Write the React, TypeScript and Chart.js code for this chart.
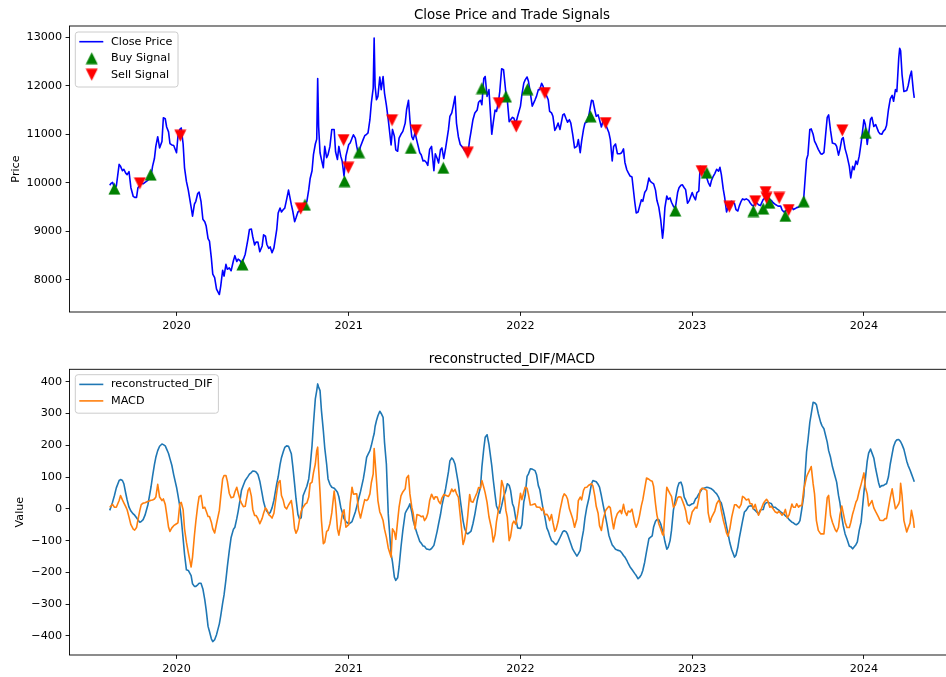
import React, { useEffect, useRef } from 'react';
import { Chart, registerables } from 'chart.js';

Chart.register(...registerables);

// ---------------- data (one line per month) ----------------
const dates = [
  '2019-08-12','2019-08-15','2019-08-18','2019-08-22','2019-08-26',
  '2019-09-01','2019-09-04','2019-09-08','2019-09-11','2019-09-15','2019-09-18','2019-09-22','2019-09-26',
  '2019-10-01','2019-10-04','2019-10-08','2019-10-11','2019-10-15','2019-10-18','2019-10-22','2019-10-26',
  '2019-11-01','2019-11-04','2019-11-08','2019-11-11','2019-11-15','2019-11-18','2019-11-22','2019-11-26',
  '2019-12-01','2019-12-04','2019-12-08','2019-12-11','2019-12-15','2019-12-18','2019-12-22','2019-12-26',
  '2020-01-01','2020-01-04','2020-01-08','2020-01-11','2020-01-15','2020-01-18','2020-01-22','2020-01-26',
  '2020-02-01','2020-02-04','2020-02-08','2020-02-11','2020-02-15','2020-02-18','2020-02-22','2020-02-26',
  '2020-03-01','2020-03-04','2020-03-08','2020-03-11','2020-03-15','2020-03-18','2020-03-22','2020-03-26',
  '2020-04-01','2020-04-04','2020-04-08','2020-04-11','2020-04-15','2020-04-18','2020-04-22','2020-04-26',
  '2020-05-01','2020-05-04','2020-05-08','2020-05-11','2020-05-15','2020-05-18','2020-05-22','2020-05-26',
  '2020-06-01','2020-06-04','2020-06-08','2020-06-11','2020-06-15','2020-06-18','2020-06-22','2020-06-26',
  '2020-07-01','2020-07-04','2020-07-08','2020-07-11','2020-07-15','2020-07-18','2020-07-22','2020-07-26',
  '2020-08-01','2020-08-04','2020-08-08','2020-08-11','2020-08-15','2020-08-18','2020-08-22','2020-08-26',
  '2020-09-01','2020-09-04','2020-09-08','2020-09-11','2020-09-15','2020-09-18','2020-09-22','2020-09-26',
  '2020-10-01','2020-10-04','2020-10-08','2020-10-11','2020-10-15','2020-10-18','2020-10-22','2020-10-25','2020-10-27','2020-10-29',
  '2020-11-01','2020-11-04','2020-11-08','2020-11-11','2020-11-15','2020-11-18','2020-11-22','2020-11-26',
  '2020-12-01','2020-12-04','2020-12-08','2020-12-11','2020-12-15','2020-12-18','2020-12-22','2020-12-26',
  '2021-01-01','2021-01-04','2021-01-08','2021-01-11','2021-01-15','2021-01-18','2021-01-22','2021-01-26',
  '2021-02-01','2021-02-04','2021-02-08','2021-02-11','2021-02-15','2021-02-18','2021-02-22','2021-02-24','2021-02-26',
  '2021-03-01','2021-03-04','2021-03-08','2021-03-11','2021-03-15','2021-03-18','2021-03-22','2021-03-26',
  '2021-04-01','2021-04-04','2021-04-08','2021-04-11','2021-04-15','2021-04-18','2021-04-22','2021-04-26',
  '2021-05-01','2021-05-04','2021-05-08','2021-05-11','2021-05-15','2021-05-18','2021-05-22','2021-05-26',
  '2021-06-01','2021-06-04','2021-06-08','2021-06-11','2021-06-15','2021-06-18','2021-06-22','2021-06-26',
  '2021-07-01','2021-07-04','2021-07-08','2021-07-11','2021-07-15','2021-07-18','2021-07-22','2021-07-26',
  '2021-08-01','2021-08-04','2021-08-08','2021-08-11','2021-08-15','2021-08-18','2021-08-22','2021-08-26',
  '2021-09-01','2021-09-04','2021-09-08','2021-09-11','2021-09-15','2021-09-18','2021-09-22','2021-09-26',
  '2021-10-01','2021-10-04','2021-10-08','2021-10-11','2021-10-15','2021-10-18','2021-10-22','2021-10-26',
  '2021-11-01','2021-11-04','2021-11-08','2021-11-11','2021-11-15','2021-11-18','2021-11-22','2021-11-26',
  '2021-12-01','2021-12-04','2021-12-08','2021-12-11','2021-12-15','2021-12-18','2021-12-22','2021-12-26',
  '2022-01-01','2022-01-04','2022-01-08','2022-01-11','2022-01-15','2022-01-18','2022-01-22','2022-01-26',
  '2022-02-01','2022-02-04','2022-02-08','2022-02-11','2022-02-15','2022-02-18','2022-02-22','2022-02-26',
  '2022-03-01','2022-03-04','2022-03-08','2022-03-11','2022-03-15','2022-03-18','2022-03-22','2022-03-26',
  '2022-04-01','2022-04-04','2022-04-08','2022-04-11','2022-04-15','2022-04-18','2022-04-22','2022-04-26',
  '2022-05-01','2022-05-04','2022-05-08','2022-05-11','2022-05-15','2022-05-18','2022-05-22','2022-05-26',
  '2022-06-01','2022-06-04','2022-06-08','2022-06-11','2022-06-15','2022-06-18','2022-06-22','2022-06-26',
  '2022-07-01','2022-07-04','2022-07-08','2022-07-11','2022-07-15','2022-07-18','2022-07-22','2022-07-26',
  '2022-08-01','2022-08-04','2022-08-08','2022-08-11','2022-08-15','2022-08-18','2022-08-22','2022-08-26',
  '2022-09-01','2022-09-04','2022-09-08','2022-09-11','2022-09-15','2022-09-18','2022-09-22','2022-09-26',
  '2022-10-01','2022-10-04','2022-10-08','2022-10-11','2022-10-15','2022-10-18','2022-10-22','2022-10-26','2022-10-30',
  '2022-11-01','2022-11-04','2022-11-08','2022-11-11','2022-11-15','2022-11-18','2022-11-22','2022-11-26',
  '2022-12-01','2022-12-04','2022-12-08','2022-12-11','2022-12-15','2022-12-18','2022-12-22','2022-12-26',
  '2023-01-01','2023-01-04','2023-01-08','2023-01-11','2023-01-15','2023-01-18','2023-01-22','2023-01-26',
  '2023-02-01','2023-02-04','2023-02-08','2023-02-11','2023-02-15','2023-02-18','2023-02-22','2023-02-26',
  '2023-03-01','2023-03-04','2023-03-08','2023-03-11','2023-03-15','2023-03-18','2023-03-22','2023-03-26',
  '2023-04-01','2023-04-04','2023-04-08','2023-04-11','2023-04-15','2023-04-18','2023-04-22','2023-04-26',
  '2023-05-01','2023-05-04','2023-05-08','2023-05-11','2023-05-15','2023-05-18','2023-05-22','2023-05-26',
  '2023-06-01','2023-06-04','2023-06-08','2023-06-11','2023-06-15','2023-06-18','2023-06-22','2023-06-26',
  '2023-07-01','2023-07-04','2023-07-08','2023-07-11','2023-07-15','2023-07-18','2023-07-22','2023-07-26',
  '2023-08-01','2023-08-04','2023-08-08','2023-08-11','2023-08-15','2023-08-18','2023-08-22','2023-08-26',
  '2023-09-01','2023-09-04','2023-09-08','2023-09-11','2023-09-15','2023-09-18','2023-09-22','2023-09-26',
  '2023-10-01','2023-10-04','2023-10-08','2023-10-11','2023-10-15','2023-10-18','2023-10-22','2023-10-26',
  '2023-11-01','2023-11-04','2023-11-08','2023-11-11','2023-11-15','2023-11-18','2023-11-22','2023-11-26',
  '2023-12-01','2023-12-04','2023-12-08','2023-12-11','2023-12-15','2023-12-18','2023-12-22','2023-12-26',
  '2024-01-01','2024-01-04','2024-01-08','2024-01-11','2024-01-15','2024-01-18','2024-01-22','2024-01-26',
  '2024-02-01','2024-02-04','2024-02-08','2024-02-11','2024-02-15','2024-02-18','2024-02-22','2024-02-26',
  '2024-03-01','2024-03-04','2024-03-08','2024-03-11','2024-03-15','2024-03-17','2024-03-19','2024-03-22','2024-03-26',
  '2024-04-01','2024-04-04','2024-04-08','2024-04-11','2024-04-15','2024-04-17',
];

const closePrice = [
  9950, 9990, 10010, 9900, 9930,
  10380, 10340, 10250, 10280, 10200, 10170, 10230, 9900,
  9720, 9700, 9700, 9900, 9950, 9990, 9980, 10010,
  10050, 10120, 10150, 10340, 10500, 10750, 10950, 10720,
  10850, 11340, 11320, 11150, 11050, 10810, 10780, 10770,
  10620, 10960, 11100, 11130, 10800, 10310, 10030, 9850,
  9500, 9315, 9560, 9620, 9780, 9810, 9620, 9250,
  9200, 9110, 8850, 8800, 8450, 8120, 8050, 7810,
  7700, 7880, 8200, 8080, 8320, 8220, 8250, 8190,
  8400, 8500, 8380, 8430, 8400, 8340, 8420, 8530,
  8850, 9040, 9050, 8890, 8720, 8780, 8780, 8580,
  8700, 8930, 8900, 8730, 8650, 8680, 8560, 8660,
  9040, 9380, 9480, 9400, 9450, 9480, 9660, 9850,
  9550, 9420, 9200, 9280, 9400, 9420, 9480, 9510,
  9560, 9620, 9860, 10090, 10250, 10580, 10800, 10900, 12150, 11160,
  10620, 10480, 10310, 10750, 10520, 10580, 10750, 11100,
  11100, 10640, 10480, 10750, 10550, 10450, 10140, 10550,
  10790, 10820, 10920, 10990, 10920, 10750, 10570, 10750,
  10900, 10970, 11000, 11030, 11300, 11640, 11950, 12980, 12000,
  11710, 11780, 12180, 11920, 12190, 11850, 11600, 11300,
  10780, 11100, 10960, 10680, 10650, 10920, 11000, 11060,
  11230, 11510, 11700, 11300, 10950, 10890, 11030, 10860,
  10620, 10580, 10450, 10460, 10420, 10360, 10690, 10750,
  10250, 10600, 10500, 10410, 10680, 10720, 10500, 10720,
  11100, 11370, 11440, 11580, 11780, 11230, 10950, 10790,
  10720, 10670, 10620, 10570, 10890, 11060, 11300, 11440,
  11500, 11660, 11700, 11610, 12150, 12190, 11780, 11920,
  11000, 11230, 11500, 11470, 11650, 11880, 12350, 12330,
  11850, 11710, 11260, 11300, 11350, 11330, 11220, 11370,
  11580, 11810, 12050, 12120, 12180, 12090, 11850, 11580,
  11710, 11780, 11920, 11920, 12050, 11990, 11850, 11780,
  11710, 11470, 11440, 11370, 11080, 11130, 11230, 11100,
  11400, 11420, 11320, 11250, 11300, 11230, 11000, 10720,
  10750, 10890, 10620, 10860, 11100, 11230, 11250, 11370,
  11700, 11690, 11500, 11370, 11400, 11300, 11150, 11290,
  11200, 11130, 11030, 10890, 10450, 10750, 10800, 10600,
  10600, 10620, 10700, 10420, 10270, 10210, 10140, 10120,
  9600, 9380, 9400, 9510, 9650, 9620, 9800, 9860,
  10100, 10030, 10000, 9980, 9850, 9640, 9500, 9250, 8860,
  9040, 9490, 9730, 9660, 9690, 9600, 9520, 9470,
  9800, 9900, 9950, 9960, 9900, 9860, 9580, 9640,
  9800, 9720, 9650, 9800, 9830, 10340, 10300, 10230,
  10100, 10010, 9930, 10050, 10140, 10190, 10280, 10240,
  10320, 10170, 9870, 9700, 9400, 9490, 9600, 9620,
  9570, 9450, 9420, 9520, 9620, 9670, 9650, 9670,
  9640, 9590, 9540, 9520, 9580, 9590, 9550, 9530,
  9660, 9680, 9730, 9700, 9660, 9640, 9590, 9560,
  9530, 9520, 9520, 9440, 9400, 9420, 9440, 9500,
  9500, 9450, 9470, 9490, 9500, 9520, 9540, 9680,
  10480, 10580, 11100, 11110, 11000, 10860, 10780, 10690,
  10600, 10590, 10620, 10930, 11350, 11400, 11080, 10820,
  10800, 10750, 10570, 10690, 10900, 10930, 10700, 10560,
  10340, 10100, 10340, 10270, 10450, 10380, 10550, 10820,
  11300, 11200, 10790, 11010, 11310, 11350, 11160, 11200,
  11050, 11010, 11000, 11060, 11100, 11180, 11500, 11730,
  11800, 11680, 11920, 11880, 12570, 12770, 12720, 12230, 11880,
  11900, 12000, 12200, 12300, 11900, 11750,
];

const reconstructedDIF = [
  -5, 7, 21, 42, 66,
  89, 92, 89, 79, 49, 28, 5, -7,
  -16, -20, -28, -35, -42, -40, -34, -20,
  12, 37, 71, 102, 139, 162, 183, 197,
  204, 202, 198, 188, 174, 158, 137, 107,
  68, 43, 8, -30, -94, -143, -192, -194,
  -210, -236, -244, -244, -239, -234, -234, -252,
  -286, -318, -370, -386, -409, -418, -412, -396,
  -362, -336, -297, -271, -223, -182, -133, -90,
  -64, -58, -31, -8, 28, 58, 74, 89,
  102, 109, 114, 119, 118, 116, 108, 87,
  47, 22, 1, -8, -15, -12, 3, 27,
  79, 100, 139, 161, 180, 193, 198, 197,
  173, 135, 77, 31, -18, -31, -28, 41,
  60, 71, 94, 133, 199, 267, 346, 372, 393, 383,
  372, 309, 246, 192, 141, 94, 77, 68,
  65, 60, 52, 38, 5, -10, -31, -40,
  -47, -45, -40, -27, -10, 7, 31, 54,
  94, 121, 162, 171, 183, 199, 225, 236, 259,
  278, 293, 307, 300, 288, 210, 141, -16,
  -141, -168, -215, -225, -217, -183, -121, -68,
  -14, -5, 5, 16, -10, -37, -58, -77,
  -103, -108, -117, -118, -126, -127, -129, -125,
  -115, -96, -70, -47, -18, 9, 37, 64,
  117, 151, 160, 155, 140, 114, 79, 29,
  -37, -60, -76, -79, -74, -70, -47, -18,
  26, 45, 68, 131, 189, 225, 233, 203,
  136, 93, 44, 9, -5, -14, 10, 37,
  58, 79, 74, 58, 16, 5, -31, -60,
  -62, -50, 21, 42, 102, 110, 126, 125,
  120, 108, 73, 61, 26, 0, -26, -60,
  -70, -84, -100, -103, -110, -113, -103, -91,
  -72, -69, -72, -80, -97, -110, -127, -137,
  -149, -142, -131, -100, -68, -30, 5, 30,
  79, 89, 87, 85, 77, 68, 41, 10,
  -26, -50, -84, -97, -114, -119, -127, -130,
  -133, -138, -147, -152, -162, -172, -183, -191,
  -204, -210, -220, -216, -207, -194, -168, -134,
  -94, -90, -85, -57, -39, -34, -34, -47, -70,
  -79, -103, -127, -121, -100, -68, -5, 28,
  68, 81, 84, 72, 37, 28, 13, 10,
  16, 17, 31, 35, 47, 53, 63, 65,
  68, 67, 65, 63, 58, 53, 47, 37,
  24, 18, -6, -26, -56, -77, -107, -129,
  -152, -146, -121, -93, -62, -39, -10, -4,
  8, 9, 10, 0, -5, -10, -16, -3,
  -2, 14, 20, 20, 18, 17, 5, 5,
  -1, -4, -10, -13, -17, -22, -26, -34,
  -42, -44, -49, -50, -45, -37, 0, 40,
  178, 215, 272, 299, 335, 334, 328, 300,
  272, 261, 252, 234, 210, 183, 162, 133,
  100, 84, 42, 19, -26, -53, -79, -95,
  -118, -119, -126, -120, -113, -104, -68, -42,
  52, 94, 150, 175, 188, 176, 160, 126,
  83, 68, 73, 73, 77, 79, 100, 141,
  173, 196, 212, 217, 218, 215, 211, 202, 187,
  150, 136, 122, 110, 94, 85,
];

const macdValues = [
  5, 9, 14, 5, 5,
  26, 42, 28, 19, 7, -3, -26, -50,
  -64, -67, -59, -35, -5, 13, 18, 19,
  23, 25, 27, 28, 31, 37, 77, 37,
  26, 31, 14, -16, -58, -71, -60, -53,
  -47, -44, 16, 20, -3, -63, -105, -138,
  -183, -152, -84, -40, 10, 38, 42, 2,
  5, -7, -24, -24, -42, -63, -76, -47,
  -5, 39, 94, 105, 105, 87, 49, 35,
  37, 53, 68, 50, 28, 18, 7, 8,
  58, 66, 40, -2, -21, -21, -31, -47,
  -30, -14, 3, -3, -18, -22, -29, -14,
  52, 81, 89, 42, 26, 6, 0, 12,
  26, -3, -63, -77, -63, -37, -7, 5,
  16, 18, 37, 79, 84, 113, 141, 183, 194, 126,
  52, -37, -110, -105, -71, -68, -47, -13,
  56, 16, -63, -83, -49, -18, -3, -58,
  -50, 16, 68, 46, 47, 47, -5, -29,
  10, 29, 26, 30, 47, 82, 110, 190, 152,
  89, 26, -10, -20, -37, -64, -89, -123,
  -152, -63, -73, -96, -37, 5, 41, 53,
  63, 97, 105, 47, 5, -14, -63, -18,
  -21, -25, -23, -37, -28, -14, 26, 46,
  30, 38, 37, 24, 16, 34, 45, 43,
  39, 47, 62, 54, 61, 48, 37, -21,
  -112, -98, -63, -21, 45, 23, 21, 35,
  52, 67, 65, 89, 68, 50, 20, -25,
  -66, -104, -81, -40, -5, 16, 89, 68,
  -5, -26, -100, -87, -47, -39, -49, -16,
  49, 29, 52, 68, 65, 45, 12, 13,
  16, 6, 5, 5, -5, 3, -19, -17,
  -24, -37, -18, -43, -71, -63, -40, -5,
  37, 47, 41, 31, 0, -13, -31, -58,
  -31, 26, 37, 28, 58, 67, 68, 74,
  79, 72, 40, 8, -14, -53, -68, -32,
  -5, 1, 8, 3, -37, -63, -31, -15,
  -5, -15, 14, -8, -21, -7, -10, -1,
  -45, -58, -42, -22, 10, 28, 63, 97,
  93, 89, 87, 70, 16, -19, -47, -63, -81,
  -84, -10, 68, 59, 47, 39, 5, 12,
  35, 38, 37, 26, 10, -5, -40, -48,
  -10, -4, 5, 2, 31, 58, 65, 63,
  58, -13, -42, -28, -16, -7, 16, 26,
  21, -7, -35, -52, -76, -86, -63, -26,
  13, 13, 7, 3, 14, 39, 35, 28,
  31, 16, 16, 0, 14, -4, -20, -7,
  16, 23, 30, 24, 5, 8, 0, -9,
  -13, -8, -14, -20, -14, -2, -28, -19,
  15, 5, 5, 16, 5, 10, 10, 60,
  100, 111, 123, 133, 79, 47, -37, -68,
  -79, -79, -79, -31, 35, 42, -21, -42,
  -66, -72, -58, -20, 9, -13, -42, -59,
  -59, -43, -16, -1, 21, 30, 56, 77,
  113, 68, 47, 9, 18, 26, 3, -9,
  -26, -36, -37, -37, -31, -31, 2, 35,
  63, 34, 0, 6, 16, 26, 80, 42, -37,
  -73, -60, -45, -5, -34, -60,
];

const buyDates = [
  '2019-08-22','2019-11-07','2020-05-20','2020-09-30','2020-12-23','2021-01-23','2021-05-13',
  '2021-07-21','2021-10-11','2021-12-01','2022-01-16','2022-05-30','2022-11-26','2023-02-01',
  '2023-05-11','2023-06-01','2023-06-14','2023-07-18','2023-08-26','2024-01-05',
];
const buyPrices = [
  9880, 10170, 8320, 9550, 10035, 10630, 10720,
  10310, 11950, 11780, 11930, 11370, 9430, 10210,
  9420, 9470, 9590, 9320, 9620, 11030,
];

const sellDates = [
  '2019-10-15','2020-01-09','2020-09-21','2020-12-21','2020-12-31','2021-04-03','2021-05-24',
  '2021-09-11','2021-11-16','2021-12-23','2022-02-22','2022-07-01','2023-01-21','2023-03-21',
  '2023-05-15','2023-06-06','2023-06-08','2023-07-05','2023-07-25','2023-11-16',
];
const sellPrices = [
  9990, 10970, 9470, 10880, 10310, 11290, 11080,
  10620, 11640, 11160, 11850, 11230, 10240, 9510,
  9620, 9810, 9690, 9690, 9440, 11080,
];

const yearTicks = [2020, 2021, 2022, 2023, 2024];
const priceTicks = [8000, 9000, 10000, 11000, 12000, 13000];
const valueTicks = [-400, -300, -200, -100, 0, 100, 200, 300, 400];

// ---------------- styling ----------------
const FAMILY = '"DejaVu Sans", sans-serif';
const TICK_PX = 11.2;
const TITLE_PX = 13.4;
const CANVAS_W = 980;
const AREA_LEFT = 69.5;
const AREA_RIGHT = 954.5;

const toMs = (s: string) => Date.parse(s + 'T00:00:00Z');

function makeTriangle(color: string, up: boolean) {
  const c = document.createElement('canvas');
  c.width = 13;
  c.height = 13;
  const g = c.getContext('2d')!;
  g.fillStyle = color;
  g.beginPath();
  if (up) {
    g.moveTo(6.5, 0.5);
    g.lineTo(12.5, 12.5);
    g.lineTo(0.5, 12.5);
  } else {
    g.moveTo(0.5, 0.5);
    g.lineTo(12.5, 0.5);
    g.lineTo(6.5, 12.5);
  }
  g.closePath();
  g.fill();
  return c;
}

const fmtTick = (v: number) => (v < 0 ? '\u2212' + String(Math.abs(v)) : String(v));

const decorPlugin = {
  id: 'decor',
  afterDraw(chart: any, _args: any, opts: any) {
    const { ctx, chartArea: a } = chart;
    ctx.save();
    ctx.strokeStyle = '#000';
    ctx.lineWidth = 0.9;
    ctx.strokeRect(a.left, a.top, a.right - a.left, a.bottom - a.top);
    ctx.fillStyle = '#000';
    ctx.font = `${TITLE_PX}px ${FAMILY}`;
    ctx.textAlign = 'center';
    ctx.textBaseline = 'alphabetic';
    ctx.fillText(opts.title, (a.left + a.right) / 2, opts.titleY);
    ctx.save();
    ctx.font = `${TICK_PX}px ${FAMILY}`;
    ctx.translate(opts.ylabelX, (a.top + a.bottom) / 2);
    ctx.rotate(-Math.PI / 2);
    ctx.textAlign = 'center';
    ctx.textBaseline = 'alphabetic';
    ctx.fillText(opts.ylabel, 0, 0);
    ctx.restore();
    const items = opts.legend as any[];
    ctx.font = `${TICK_PX}px ${FAMILY}`;
    const textW = Math.max(...items.map((it) => ctx.measureText(it.label).width));
    const bx = a.left + 5.8;
    const by = a.top + opts.legendOffset;
    const bw = 35.7 + textW + 5.7;
    const bh = 10 + (items.length - 1) * 16.5 + 12;
    const r = 2.8;
    ctx.beginPath();
    ctx.moveTo(bx + r, by);
    ctx.lineTo(bx + bw - r, by);
    ctx.arcTo(bx + bw, by, bx + bw, by + r, r);
    ctx.lineTo(bx + bw, by + bh - r);
    ctx.arcTo(bx + bw, by + bh, bx + bw - r, by + bh, r);
    ctx.lineTo(bx + r, by + bh);
    ctx.arcTo(bx, by + bh, bx, by + bh - r, r);
    ctx.lineTo(bx, by + r);
    ctx.arcTo(bx, by, bx + r, by, r);
    ctx.closePath();
    ctx.fillStyle = 'rgba(255,255,255,0.8)';
    ctx.fill();
    ctx.strokeStyle = '#cccccc';
    ctx.lineWidth = 1;
    ctx.stroke();
    items.forEach((it, i) => {
      const cy = by + 9.7 + i * 16.5;
      if (it.kind === 'line') {
        ctx.strokeStyle = it.color;
        ctx.lineWidth = 1.6;
        ctx.beginPath();
        ctx.moveTo(bx + 4, cy);
        ctx.lineTo(bx + 28, cy);
        ctx.stroke();
      } else {
        ctx.drawImage(it.image, bx + 16.4 - 6.5, cy - 6.5);
      }
      ctx.fillStyle = '#000';
      ctx.textAlign = 'left';
      ctx.textBaseline = 'middle';
      ctx.fillText(it.label, bx + 35.7, cy);
    });
    ctx.restore();
  },
};

function xScale(minX: number, maxX: number, height: number) {
  return {
    type: 'linear',
    min: minX,
    max: maxX,
    afterBuildTicks: (s: any) => {
      s.ticks = yearTicks.map((y) => ({ value: Date.UTC(y, 0, 1) }));
    },
    afterFit: (s: any) => {
      s.height = height;
    },
    ticks: {
      callback: (v: any) => String(new Date(Number(v)).getUTCFullYear()),
      font: { family: FAMILY, size: TICK_PX },
      color: '#000',
      padding: 3.5,
      maxRotation: 0,
      autoSkip: false,
    },
    grid: {
      display: true,
      drawOnChartArea: false,
      drawTicks: true,
      tickLength: 3.9,
      color: '#000',
      lineWidth: 0.9,
    },
    border: { display: false },
  };
}

function yScale(min: number, max: number, ticks: number[]) {
  return {
    type: 'linear',
    min,
    max,
    afterBuildTicks: (s: any) => {
      s.ticks = ticks.map((v) => ({ value: v }));
    },
    afterFit: (s: any) => {
      s.width = AREA_LEFT;
    },
    ticks: {
      callback: (v: any) => fmtTick(Number(v)),
      font: { family: FAMILY, size: TICK_PX },
      color: '#000',
      padding: 3.5,
      autoSkip: false,
    },
    grid: {
      display: true,
      drawOnChartArea: false,
      drawTicks: true,
      tickLength: 3.9,
      color: '#000',
      lineWidth: 0.9,
    },
    border: { display: false },
  };
}

export default function App() {
  const topRef = useRef<HTMLCanvasElement>(null);
  const botRef = useRef<HTMLCanvasElement>(null);

  useEffect(() => {
    const xs = dates.map(toMs);
    const span = xs[xs.length - 1] - xs[0];
    const minX = xs[0] - span * 0.05;
    const maxX = xs[xs.length - 1] + span * 0.05;

    const upTri = makeTriangle('#008000', true);
    const downTri = makeTriangle('#ff0000', false);

    const priceData = xs.map((x, i) => ({ x, y: closePrice[i] }));
    const buyData = buyDates.map((d, i) => ({ x: toMs(d), y: buyPrices[i] }));
    const sellData = sellDates.map((d, i) => ({ x: toMs(d), y: sellPrices[i] }));
    const difData = xs.map((x, i) => ({ x, y: reconstructedDIF[i] }));
    const macdData = xs.map((x, i) => ({ x, y: macdValues[i] }));

    const top = new Chart(topRef.current!, {
      type: 'line',
      data: {
        datasets: [
          {
            label: 'Close Price',
            data: priceData,
            borderColor: '#0000ff',
            borderWidth: 1.6,
            pointRadius: 0,
            borderJoinStyle: 'round',
            tension: 0,
            order: 3,
          },
          {
            label: 'Buy Signal',
            data: buyData,
            showLine: false,
            pointStyle: upTri,
            pointRadius: 6,
            order: 2,
          },
          {
            label: 'Sell Signal',
            data: sellData,
            showLine: false,
            pointStyle: downTri,
            pointRadius: 6,
            order: 1,
          },
        ],
      } as any,
      options: {
        animation: false,
        responsive: false,
        devicePixelRatio: 1,
        layout: { padding: { left: 0, right: CANVAS_W - AREA_RIGHT, top: 26, bottom: 0 } },
        scales: {
          x: xScale(minX, maxX, 26),
          y: yScale(7340, 13230, priceTicks),
        } as any,
        plugins: {
          legend: { display: false },
          tooltip: { enabled: false },
          decor: {
            title: 'Close Price and Trade Signals',
            titleY: 19.3,
            ylabel: 'Price',
            ylabelX: 19.3,
            legendOffset: 6.0,
            legend: [
              { kind: 'line', color: '#0000ff', label: 'Close Price' },
              { kind: 'marker', image: upTri, label: 'Buy Signal' },
              { kind: 'marker', image: downTri, label: 'Sell Signal' },
            ],
          },
        } as any,
      },
      plugins: [decorPlugin],
    });

    const bottom = new Chart(botRef.current!, {
      type: 'line',
      data: {
        datasets: [
          {
            label: 'reconstructed_DIF',
            data: difData,
            borderColor: '#1f77b4',
            borderWidth: 1.6,
            pointRadius: 0,
            borderJoinStyle: 'round',
            tension: 0,
            order: 2,
          },
          {
            label: 'MACD',
            data: macdData,
            borderColor: '#ff7f0e',
            borderWidth: 1.6,
            pointRadius: 0,
            borderJoinStyle: 'round',
            tension: 0,
            order: 1,
          },
        ],
      } as any,
      options: {
        animation: false,
        responsive: false,
        devicePixelRatio: 1,
        layout: { padding: { left: 0, right: CANVAS_W - AREA_RIGHT, top: 31.3, bottom: 0 } },
        scales: {
          x: xScale(minX, maxX, 22),
          y: yScale(-460, 439, valueTicks),
        } as any,
        plugins: {
          legend: { display: false },
          tooltip: { enabled: false },
          decor: {
            title: 'reconstructed_DIF/MACD',
            titleY: 24.7,
            ylabel: 'Value',
            ylabelX: 22.8,
            legendOffset: 5.4,
            legend: [
              { kind: 'line', color: '#1f77b4', label: 'reconstructed_DIF' },
              { kind: 'line', color: '#ff7f0e', label: 'MACD' },
            ],
          },
        } as any,
      },
      plugins: [decorPlugin],
    });

    return () => {
      top.destroy();
      bottom.destroy();
    };
  }, []);

  return (
    <div
      style={{
        position: 'fixed',
        left: 0,
        top: 0,
        width: 946,
        height: 677,
        overflow: 'hidden',
        background: '#fff',
      }}
    >
      <canvas
        ref={topRef}
        width={CANVAS_W}
        height={338}
        style={{ position: 'absolute', left: 0, top: 0, width: CANVAS_W, height: 338 }}
      />
      <canvas
        ref={botRef}
        width={CANVAS_W}
        height={339}
        style={{ position: 'absolute', left: 0, top: 338, width: CANVAS_W, height: 339 }}
      />
    </div>
  );
}
